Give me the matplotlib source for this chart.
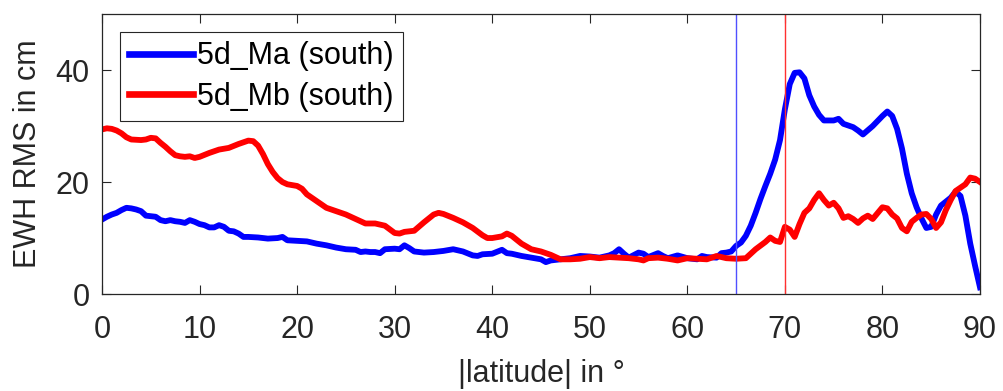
import matplotlib
matplotlib.use("Agg")
import matplotlib.pyplot as plt

# |latitude| (deg) and EWH RMS (cm)
lat_ma = [0, 0.5, 1, 1.5, 2, 2.5, 3, 3.5, 4, 4.5, 5, 5.5, 6, 6.5, 7, 7.5, 8, 8.5, 9, 9.5,
          10, 10.5, 11, 11.5, 12, 12.5, 13, 13.5, 14, 14.5, 15, 16, 17, 18, 18.5, 19,
          20, 21, 22, 23, 24, 25, 26, 26.5, 27, 27.5, 28, 28.5, 29, 30, 30.5, 31, 31.5,
          32, 33, 34, 35, 36, 37, 38, 38.5, 39, 40, 41, 41.5, 42, 43, 44, 45, 45.5, 46,
          47, 48, 49, 50, 51, 52, 52.5, 53, 53.5, 54, 55, 55.5, 56, 57, 57.5, 58, 59,
          60, 61, 61.5, 62, 63, 63.5, 64, 64.5, 65, 65.5, 66, 66.5, 67, 67.5, 68, 68.5,
          69, 69.5, 70, 70.5, 71, 71.5, 72, 72.5, 73, 73.5, 74, 75, 75.5, 76, 77, 77.5,
          78, 79, 80, 80.5, 81, 81.5, 82, 82.5, 83, 83.5, 84, 84.5, 85, 85.5, 86, 86.5,
          87, 87.5, 88, 88.5, 89, 89.5, 90]
rms_ma = [13.3, 13.8, 14.2, 14.5, 15.0, 15.4, 15.3, 15.1, 14.8, 14.0, 13.9, 13.8, 13.2,
          13.0, 13.2, 13.0, 12.9, 12.7, 13.2, 12.9, 12.5, 12.3, 11.9, 11.9, 12.3, 12.0,
          11.3, 11.2, 10.8, 10.2, 10.2, 10.1, 9.9, 10.0, 10.2, 9.6, 9.5, 9.4, 9.0, 8.7,
          8.3, 8.0, 7.9, 7.5, 7.6, 7.5, 7.5, 7.3, 8.0, 8.1, 8.0, 8.7, 8.2, 7.6, 7.4, 7.5,
          7.7, 8.0, 7.6, 6.9, 6.8, 7.1, 7.2, 7.9, 7.3, 7.2, 6.8, 6.5, 6.2, 5.7, 6.0,
          6.2, 6.4, 6.8, 6.7, 6.5, 6.9, 7.3, 8.0, 7.2, 6.5, 7.4, 7.2, 6.6, 7.3, 6.8,
          6.4, 6.9, 6.4, 6.2, 6.8, 6.6, 6.5, 7.3, 7.4, 7.6, 8.6, 9.2, 10.4, 12.2, 14.5,
          17.0, 19.3, 21.5, 24.0, 27.5, 33.0, 37.5, 39.5, 39.6, 38.5, 35.5, 33.5, 32.0,
          31.0, 31.0, 31.3, 30.4, 29.8, 29.2, 28.5, 30.0, 31.8, 32.6, 31.8, 29.5, 26.0,
          21.5, 18.0, 15.5, 13.5, 11.8, 12.0, 14.2, 15.8, 16.5, 17.2, 18.3, 17.5, 14.0,
          9.0, 5.0, 1.2]

lat_mb = [0, 0.5, 1, 1.5, 2, 2.5, 3, 4, 4.5, 5, 5.5, 6, 6.5, 7, 7.5, 8, 8.5, 9, 9.5, 10,
          11, 12, 13, 14, 15, 15.5, 16, 16.5, 17, 17.5, 18, 18.5, 19, 20, 20.5, 21, 22,
          23, 24, 25, 26, 27, 28, 29, 30, 30.5, 31, 32, 33, 34, 34.5, 35, 36, 37, 38,
          39, 39.5, 40, 41, 41.5, 42, 43, 44, 45, 46, 47, 48, 49, 50, 51, 52, 53, 54,
          55, 55.5, 56, 57, 58, 59, 60, 61, 62, 63, 64, 65, 66, 66.5, 67, 68, 68.5, 69,
          69.5, 70, 70.5, 71, 71.5, 72, 72.5, 73, 73.5, 74, 74.5, 75, 75.5, 76, 76.5,
          77, 77.5, 78, 78.5, 79, 80, 80.5, 81, 81.5, 82, 82.5, 83, 83.5, 84, 84.5, 85,
          85.5, 86, 86.5, 87, 87.5, 88, 88.5, 89, 89.5, 90]
rms_mb = [29.4, 29.6, 29.5, 29.2, 28.7, 28.0, 27.6, 27.5, 27.6, 27.9, 27.8, 27.0, 26.3,
          25.5, 24.8, 24.6, 24.5, 24.6, 24.3, 24.5, 25.2, 25.8, 26.1, 26.8, 27.4, 27.3,
          26.5, 25.0, 23.2, 21.8, 20.7, 20.0, 19.6, 19.3, 18.8, 17.8, 16.6, 15.4, 14.8,
          14.2, 13.4, 12.6, 12.6, 12.2, 10.9, 10.8, 11.1, 11.3, 12.8, 14.2, 14.5, 14.3,
          13.6, 12.8, 11.8, 10.5, 10.0, 10.0, 10.3, 10.8, 10.4, 9.0, 8.0, 7.6, 7.0,
          6.2, 6.2, 6.3, 6.6, 6.4, 6.6, 6.5, 6.4, 6.2, 6.0, 6.4, 6.5, 6.3, 6.0, 6.4,
          6.3, 6.2, 6.8, 6.4, 6.3, 6.4, 7.2, 8.0, 9.3, 10.1, 9.5, 9.3, 12.0, 11.5, 10.2,
          12.5, 14.5, 15.3, 16.8, 18.0, 16.8, 15.8, 16.3, 15.3, 13.6, 13.9, 13.4, 12.7,
          13.5, 14.0, 13.4, 15.5, 15.3, 14.2, 13.5, 11.8, 11.2, 12.9, 13.6, 14.2, 14.3,
          13.4, 11.8, 12.8, 15.0, 16.8, 18.4, 19.0, 19.6, 20.8, 20.6, 20.0]

lat_ma_cut = 65
lat_mb_cut = 70

plt.rcParams["font.family"] = ["Liberation Sans", "DejaVu Sans"]
plt.rcParams["font.size"] = 22

fig = plt.figure(figsize=(10.04, 3.91), dpi=100)
ax = fig.add_axes([0.1016, 0.248, 0.8745, 0.716])

ax.plot(lat_ma, rms_ma, color="#0000ff", lw=4.2, label="5d_Ma (south)")
ax.plot(lat_mb, rms_mb, color="#ff0000", lw=4.2, label="5d_Mb (south)")
ax.axvline(lat_ma_cut, color="#5050ff", lw=1.0)
ax.axvline(lat_mb_cut, color="#ff3030", lw=1.0)

ax.set_xlim(0, 90)
ax.set_ylim(0, 50)
ax.set_xticks(range(0, 91, 10))
ax.set_yticks([0, 20, 40])
ax.set_xlabel("|latitude| in °", color="#262626", labelpad=10)
ax.set_ylabel("EWH RMS in cm", color="#262626", labelpad=9)
ax.tick_params(direction="in", length=6.5, width=0.8, top=True, right=True,
               colors="#262626")
ax.tick_params(axis="x", pad=15)
ax.tick_params(axis="y", pad=9)
for s in ax.spines.values():
    s.set_color("#262626")
    s.set_linewidth(0.9)

leg = ax.legend(loc="upper left", bbox_to_anchor=(0.02, 0.935), fancybox=False,
                framealpha=1, edgecolor="#262626", handlelength=2.1,
                handletextpad=0.15, borderpad=0.3, labelspacing=0.35,
                borderaxespad=0)
leg.get_frame().set_linewidth(0.8)
for line in leg.get_lines():
    line.set_linewidth(4.8)

fig.savefig("out.png", dpi=100)
